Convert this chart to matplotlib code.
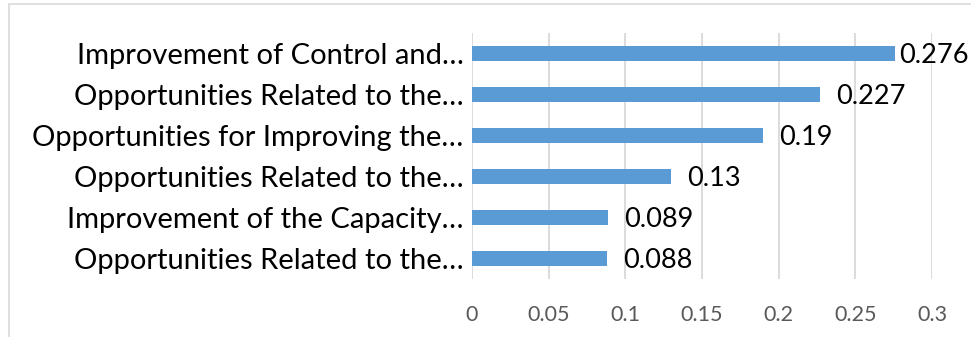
import matplotlib.pyplot as plt
from matplotlib.patches import Rectangle

# Scores per opportunity, bottom to top
categories = [
    "Opportunities Related to the…",
    "Improvement of the Capacity…",
    "Opportunities Related to the…",
    "Opportunities for Improving the…",
    "Opportunities Related to the…",
    "Improvement of Control and…",
]
values = [0.088, 0.089, 0.13, 0.19, 0.227, 0.276]
value_labels = ["0.088", "0.089", "0.13", "0.19", "0.227", "0.276"]
xticks = [0, 0.05, 0.1, 0.15, 0.2, 0.25, 0.3]
xtick_labels = ["0", "0.05", "0.1", "0.15", "0.2", "0.25", "0.3"]

W, H = 971, 337
plt.rcParams['font.family'] = ['Lato', 'DejaVu Sans']

fig = plt.figure(figsize=(W / 100, H / 100), dpi=100)
ax = fig.add_axes([472 / W, 1 - 279 / H, (932 - 472) / W, (279 - 33) / H])

# chart frame
fig.patches.append(Rectangle((9 / W, -0.1), 1.2, 1 - 4 / H + 0.1,
                             transform=fig.transFigure, fill=False,
                             edgecolor='#D9D9D9', linewidth=1.2))

y = range(len(categories))
ax.barh(y, values, height=0.36, color='#5B9BD5', zorder=3)
# labels sit after the bar end, pushed back in if they would leave the frame
for yi, v, lab in zip(y, values, value_labels):
    ax.text(min(v + 0.0105, 0.2785), yi - 0.05, lab, va='center', ha='left',
            fontsize=19.5, color='black')

ax.set_xlim(0, 0.3)
ax.set_ylim(-0.5, len(categories) - 0.5)
ax.set_xticks(xticks)
ax.set_xticklabels(xtick_labels, color='#595959', fontsize=15.5)
ax.set_yticks(list(y))
ax.set_yticklabels(categories, fontsize=21, color='black')
ax.tick_params(length=0)
ax.tick_params(axis='x', pad=19)
ax.tick_params(axis='y', pad=6)
ax.grid(axis='x', color='#D9D9D9', linewidth=1.3, zorder=0)
ax.set_axisbelow(True)
for s in ax.spines.values():
    s.set_visible(False)

fig.savefig('out.png', dpi=100)
